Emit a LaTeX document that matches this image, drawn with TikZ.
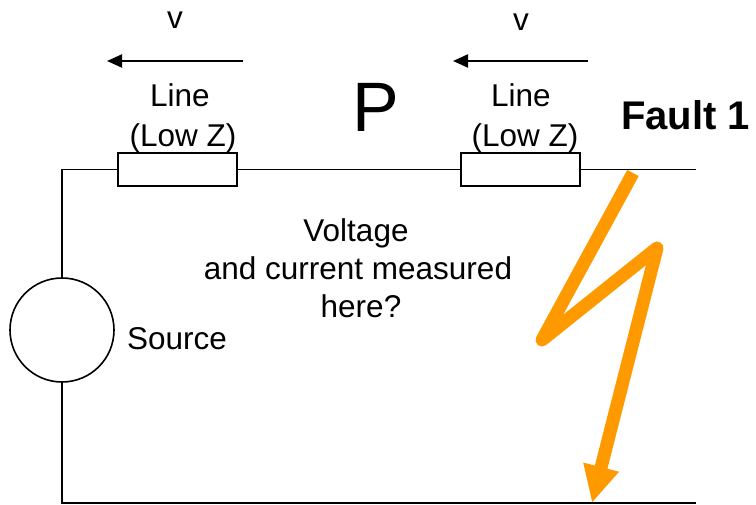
\documentclass[tikz,border=0pt]{standalone}
\usepackage{fontspec}
\setmainfont{Liberation Sans}
\usetikzlibrary{arrows.meta}
\definecolor{boltorange}{HTML}{FF9900}
\begin{document}
\begin{tikzpicture}[x=1pt,y=-1pt,
  wire/.style={line width=1.6pt},
  res/.style={draw, line width=1.6pt, fill=white, minimum width=119pt, minimum height=33pt, inner sep=0pt},
  lbl/.style={font=\fontsize{31.5}{36}\selectfont, inner sep=0pt, anchor=base},
  varrow/.style={line width=2pt, -{Triangle[length=15pt,width=13pt]}},
  bolt/.style={draw=boltorange, line width=13pt, line join=round, -{Triangle[length=37pt,width=34pt]}}
]
\useasboundingbox (0,0) rectangle (756,505);
% circuit
\node[res] (r1) at (177.5,169.5) {};
\node[res] (r2) at (520.5,169.5) {};
\node[draw, circle, minimum size=104pt, line width=1.6pt, inner sep=0pt] (src) at (62,330) {};
\coordinate (tl) at (62,169.5);
\coordinate (tr) at (696,169.5);
\coordinate (bl) at (62,503);
\coordinate (br) at (696,503);
\draw[wire] (src.north) -- (tl) -- (r1.west);
\draw[wire] (r1.east) -- (r2.west);
\draw[wire] (r2.east) -- (tr);
\draw[wire] (src.south) -- (bl) -- (br);
% labels
\node[lbl] (v1) at (175,29) {v};
\node[lbl] (v2) at (521,31) {v};
\coordinate (a1s) at (243,61); \coordinate (a1e) at (107,61);
\coordinate (a2s) at (588,61); \coordinate (a2e) at (453,61);
\draw[varrow] (a1s) -- (a1e);
\draw[varrow] (a2s) -- (a2e);
\node[lbl] (l1) at (180,107) {Line};
\node[lbl] (z1) at (183,147) {(Low Z)};
\node[lbl] (l2) at (521,107) {Line};
\node[lbl] (z2) at (525,147) {(Low Z)};
\node[lbl, font=\fontsize{70}{72}\selectfont] (p) at (376,132) {P};
\node[lbl, font=\bfseries\fontsize{40}{44}\selectfont, anchor=base west] (fault) at (621,130) {Fault 1};
\node[lbl, anchor=base west] (srclbl) at (127,350) {Source};
\node[lbl] (m1) at (356,242) {Voltage};
\node[lbl] (m2) at (358,280) {and current measured};
\node[lbl] (m3) at (361,318) {here?};
% fault bolt
\coordinate (b0) at (633,173);
\coordinate (b1) at (542,340);
\coordinate (b2) at (657,248);
\coordinate (b3) at (592,503);
\draw[bolt] (b0) -- (b1) -- (b2) -- (b3);
\end{tikzpicture}
\end{document}
